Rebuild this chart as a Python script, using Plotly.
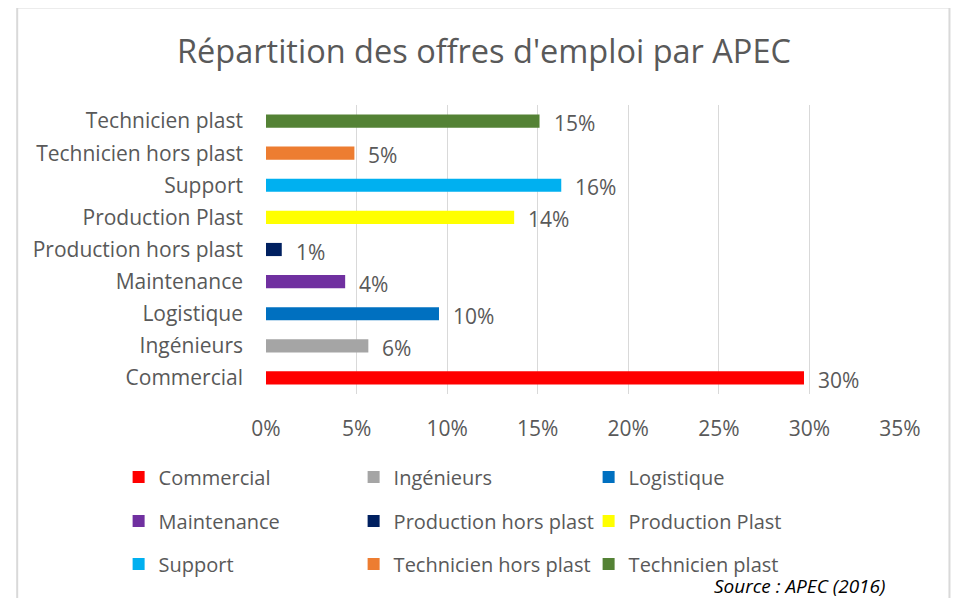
import plotly.graph_objects as go

categories = ["Commercial", "Ingénieurs", "Logistique", "Maintenance",
              "Production hors plast", "Production Plast", "Support",
              "Technicien hors plast", "Technicien plast"]
values = [29.7, 5.65, 9.55, 4.37, 0.87, 13.7, 16.3, 4.88, 15.1]
colors = ["#FF0000", "#A5A5A5", "#0070C0", "#7030A0", "#002060",
          "#FFFF00", "#00B0F0", "#ED7D31", "#548235"]
x_ticks = [0, 5, 10, 15, 20, 25, 30, 35]
x_tick_labels = ["0%", "5%", "10%", "15%", "20%", "25%", "30%", "35%"]
title_text = "Répartition des offres d'emploi par APEC"
source_text = "Source : APEC (2016)"

FONT = "Open Sans"
GRAY = "#595959"
FS = 21
OFF = 8  # page body margin

W, H = 962, 598
L, R, T, B = 265.5 - OFF, W - (900 - OFF), 105 - OFF, H - (394 - OFF)
pw, ph = W - L - R, H - T - B

def px(x):
    return (x - OFF - L) / pw

def py(y):
    return (H - B - (y - OFF)) / ph

fig = go.Figure()
legend_names = ["legend", "legend2", "legend3"]
for i, (c, v, col) in enumerate(zip(categories, values, colors)):
    fig.add_trace(go.Bar(
        y=[c], x=[v], orientation="h", name=c,
        marker=dict(color=col, line=dict(width=0)),
        width=0.41, legend=legend_names[i // 3],
        hoverinfo="skip",
    ))
    fig.add_annotation(
        x=v, y=c, xref="x", yref="y", text=f"{round(v):.0f}%",
        showarrow=False, xanchor="left", yanchor="middle",
        xshift=12, yshift=-2,
        font=dict(family=FONT, size=FS, color=GRAY),
    )

row_y = [477, 521, 564]
legend_cfg = {}
for i, ln in enumerate(legend_names):
    legend_cfg[ln] = dict(
        orientation="h", x=px(118), xanchor="left",
        y=py(row_y[i]), yanchor="middle",
        entrywidth=190, entrywidthmode="pixels",
        font=dict(family=FONT, size=20, color=GRAY),
        bgcolor="rgba(0,0,0,0)", borderwidth=0,
        traceorder="normal",
    )

fig.add_annotation(
    x=px(887), y=py(586), xref="paper", yref="paper", text=f"<i>{source_text}</i>",
    showarrow=False, xanchor="right", yanchor="middle",
    font=dict(family=FONT, size=19, color="#000000"),
)

fig.add_shape(
    type="rect", xref="paper", yref="paper",
    x0=px(16.5), x1=px(949.5), y0=py(7.5), y1=py(640),
    line=dict(color="#D9D9D9", width=2), fillcolor="rgba(0,0,0,0)", layer="below",
)

fig.update_layout(
    width=W, height=H,
    margin=dict(l=L, r=R, t=T, b=B, pad=0),
    paper_bgcolor="white", plot_bgcolor="white",
    barmode="overlay",
    showlegend=True,
    title=dict(text=title_text, x=(484 - OFF) / W, xref="container", xanchor="center",
               y=1 - (52 - OFF) / H, yanchor="middle",
               font=dict(family=FONT, size=32.5, color=GRAY)),
    font=dict(family=FONT, color=GRAY),
    xaxis=dict(range=[0, 35], tickvals=x_ticks, ticktext=x_tick_labels,
               showgrid=True, gridcolor="#D9D9D9", gridwidth=1,
               zeroline=False, showline=False, ticks="",
               ticklabelstandoff=20,
               tickfont=dict(family=FONT, size=FS, color=GRAY), fixedrange=True),
    yaxis=dict(categoryorder="array", categoryarray=categories,
               range=[-0.5, 8.5], showgrid=False, zeroline=False, showline=False,
               ticks="", ticklabelstandoff=22,
               tickfont=dict(family=FONT, size=FS, color=GRAY), fixedrange=True),
    **legend_cfg,
)

fig.write_html("out.html")
